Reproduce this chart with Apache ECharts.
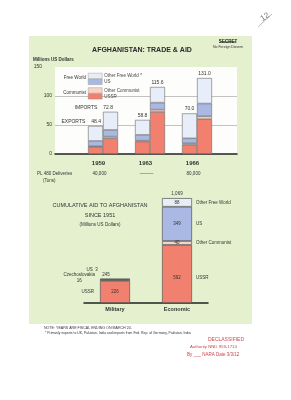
<!DOCTYPE html>
<html>
<head>
<meta charset="utf-8">
<script src="https://cdn.jsdelivr.net/npm/echarts@6/dist/echarts.min.js"></script>
<style>
html, body { margin: 0; padding: 0; background: #fff; }
#main { width: 291px; height: 400px; }
</style>
</head>
<body>
<div id="main"></div>
<script>
// trade, millions US dollars (fiscal years)
var years = ['1959', '1963', '1966'];
var plDeliveries = ['40,000', '———', '80,000'];
var expUSSR = [12, 21.5, 16];
var expOtherComm = [1.5, 1.5, 2.5];
var expUS = [9, 10, 8.5];
var expOtherFree = [25.9, 25.8, 43];
var expTotal = ['48.4', '58.8', '70.0'];
var impUSSR = [27, 72.5, 60];
var impOtherComm = [3, 4, 5];
var impUS = [11.5, 12, 22];
var impOtherFree = [31.3, 27.1, 44];
var impTotal = ['72.8', '115.6', '131.0'];

// cumulative aid since 1951, millions US dollars
var aidTypes = ['Military', 'Economic'];
var aidUSSR = [226, 592];
var aidOtherComm = [16, 40];   // military: Czechoslovakia
var aidUS = [3, 349];
var aidOtherFree = [null, 88];
var aidTotal = ['245', '1,069'];

var FONT = 'Liberation Sans';
var colUSSR = '#f2806e', colOtherComm = '#f8d3c7', colUS = '#a9b9e3', colOtherFree = '#e8eef9';
var chart = echarts.init(document.getElementById('main'));

function txt(x, y, s, size, extra) {
    var st = { text: s, x: x, y: y, font: (extra && extra.bold ? 'bold ' : '') + size + 'px ' + FONT,
        fill: (extra && extra.fill) || '#333', textAlign: (extra && extra.align) || 'left', textVerticalAlign: 'middle' };
    return { type: 'text', z: 5, style: st };
}

function tradeBar(name, stack, data, color) {
    return {
        name: name, type: 'bar', stack: stack, xAxisIndex: 1, yAxisIndex: 1,
        barWidth: 15, barGap: '0%', data: data,
        itemStyle: { color: color, borderColor: '#6a6a6a', borderWidth: 0.6 }
    };
}

//总额标签, 1959年前面带 EXPORTS / IMPORTS
function topItems(vals, totals, word, shift) {
    return vals.map(function (v, i) {
        var lab = { show: true, position: 'top', distance: 2, fontSize: 5, color: '#333', fontFamily: FONT, formatter: totals[i] };
        if (i === 0) {
            lab = { show: true, position: ['100%', 0], align: 'right', verticalAlign: 'bottom', offset: [shift, -2],
                fontSize: 5, color: '#333', fontFamily: FONT, formatter: '{t|' + word + '}' + totals[i],
                rich: { t: { fontSize: 5, color: '#333', fontFamily: FONT, padding: [0, 6, 0, 0] } } };
        }
        return { value: v, label: lab };
    });
}

function aidBar(name, data, color) {
    return {
        name: name, type: 'bar', stack: 'aid', xAxisIndex: 3, yAxisIndex: 2,
        barWidth: 30, data: data,
        itemStyle: { color: color, borderColor: '#555', borderWidth: 0.7 },
        label: {
            show: true, position: ['0%', '50%'], align: 'left', verticalAlign: 'middle',
            fontSize: 4.5, color: '#333', fontFamily: FONT,
            formatter: function (p) { return '{v|' + p.value + '}{n|' + name + '}'; },
            rich: {
                v: { width: 30, align: 'center', fontSize: 4.5, color: '#333', fontFamily: FONT },
                n: { padding: [0, 0, 0, 4], fontSize: 4.5, color: '#333', fontFamily: FONT }
            }
        }
    };
}

var sUSSR = aidBar('USSR', aidUSSR.map(function (v, i) {
    if (i === 0) {
        return { value: v, label: { position: ['100%', '50%'], align: 'right', formatter: '{n|USSR}{v|' + v + '}',
            rich: { n: { padding: [0, 6, 0, 0], fontSize: 4.5, color: '#333', fontFamily: FONT },
                    v: { width: 30, align: 'center', fontSize: 4.5, color: '#333', fontFamily: FONT } } } };
    }
    return { value: v, label: { offset: [0, 4] } };
}), colUSSR);
var sOtherComm = aidBar('Other Communist', aidOtherComm.map(function (v, i) {
    if (i === 0) {
        return { value: v, itemStyle: { color: '#5e5e5e' },
            label: { position: ['0%', '50%'], align: 'right', offset: [-5, -2], formatter: '{c|Czechoslovakia}\n{c|' + v + '}',
                lineHeight: 6, rich: { c: { align: 'center', fontSize: 4.5, color: '#333', fontFamily: FONT, lineHeight: 6 } } } };
    }
    return v;
}), colOtherComm);
var sUS = aidBar('US', aidUS.map(function (v, i) {
    if (i === 0) {
        return { value: v, label: { position: ['0%', '0%'], align: 'right', offset: [-2, -9], formatter: 'US  ' + v } };
    }
    return v;
}), colUS);
var sOtherFree = aidBar('Other Free World', aidOtherFree, colOtherFree);
var sTotal = {
    name: 'Total', type: 'bar', stack: 'aid', xAxisIndex: 3, yAxisIndex: 2, barWidth: 30,
    data: aidTotal.map(function () { return 0; }),
    itemStyle: { color: 'transparent' },
    label: {
        show: true, position: 'top', distance: 2, fontSize: 4.5, color: '#333', fontFamily: FONT,
        formatter: function (p) { return aidTotal[p.dataIndex]; }
    }
};
sTotal.data[0] = { value: 0, label: { offset: [-9, 0] } };

var expTop = tradeBar('Other Free World *', 'exp', topItems(expOtherFree, expTotal, 'EXPORTS', -2), colOtherFree);
var impTop = tradeBar('Other Free World *', 'imp', topItems(impOtherFree, impTotal, 'IMPORTS', -5), colOtherFree);

var legendBase = {
    orient: 'vertical', left: 88, icon: 'rect', itemWidth: 14, itemHeight: 5.5, itemGap: 0, padding: 0,
    selectedMode: false,
    itemStyle: { borderColor: '#8a8a8a', borderWidth: 0.4 },
    textStyle: { fontSize: 4.5, color: '#444', fontFamily: FONT, lineHeight: 5.5, padding: [0, 0, 0, -3] }
};

option = {
    animation: false,
    title: [{
        text: 'AFGHANISTAN: TRADE & AID', left: 137, top: 42, textAlign: 'center',
        textStyle: { fontSize: 7, fontWeight: 'bold', color: '#2a2a2a', fontFamily: FONT }
    }, {
        text: 'CUMULATIVE AID TO AFGHANISTAN', left: 100, top: 202, textAlign: 'center', padding: 0,
        textStyle: { fontSize: 5.5, fontWeight: 'normal', color: '#333', fontFamily: FONT },
        subtext: 'SINCE 1951', itemGap: 4,
        subtextStyle: { fontSize: 5.5, color: '#333', fontFamily: FONT }
    }],
    legend: [
        Object.assign({ top: 73, data: ['Other Free World *', 'US'] }, legendBase),
        Object.assign({ top: 87.5, data: ['Other Communist', 'USSR'] }, legendBase)
    ],
    grid: [
        { left: 55, width: 182, top: 67, height: 87, show: true, backgroundColor: '#fdfefb', borderWidth: 0 },
        { left: 79.5, width: 141, top: 67, height: 87 },
        { left: 84, width: 124, top: 198, height: 105 }
    ],
    xAxis: [
        { type: 'value', gridIndex: 0, min: 0, max: 1, axisLabel: { show: false }, axisTick: { show: false },
          splitLine: { show: false }, axisLine: { lineStyle: { color: '#222', width: 1.5 } } },
        { type: 'category', gridIndex: 1, data: years, axisLine: { show: false }, axisTick: { show: false },
          axisLabel: { fontSize: 6, fontWeight: 'bold', color: '#333', fontFamily: FONT, margin: 6, padding: [0, 9, 0, 0] } },
        { type: 'category', gridIndex: 1, data: plDeliveries, position: 'bottom', offset: 15,
          axisLine: { show: false }, axisTick: { show: false },
          axisLabel: { fontSize: 4.5, color: '#333', fontFamily: FONT, margin: 2, padding: [0, 7, 0, 0] } },
        { type: 'category', gridIndex: 2, data: aidTypes, axisTick: { show: false },
          axisLine: { lineStyle: { color: '#222', width: 1.5 } },
          axisLabel: { fontSize: 5.5, fontWeight: 'bold', color: '#333', fontFamily: FONT, margin: 3 } }
    ],
    yAxis: [
        { type: 'value', gridIndex: 0, min: 0, max: 150, interval: 50,
          axisLine: { show: false }, axisTick: { show: false },
          axisLabel: { fontSize: 5, color: '#333', fontFamily: FONT, margin: 3,
              formatter: function (v) { return v === 150 ? '{f|150}' : v; },
              rich: { f: { fontSize: 5, color: '#333', fontFamily: FONT, padding: [0, 10, 0, 0] } } },
          splitLine: { lineStyle: { color: ['transparent', '#9a9a9a', '#9a9a9a', 'transparent'], width: 0.6 } } },
        { type: 'value', gridIndex: 1, min: 0, max: 150, show: false },
        { type: 'value', gridIndex: 2, min: 0, max: 1070, show: false }
    ],
    graphic: [
        { type: 'rect', z: -10, shape: { x: 29, y: 36, width: 223, height: 288 }, style: { fill: '#e5f0cf' } },
        txt(33, 60, 'Millions US Dollars', 4.5, { bold: true }),
        txt(86, 78, 'Free World', 4.5, { align: 'right' }),
        txt(86, 93, 'Communist', 4.5, { align: 'right' }),
        txt(37, 174, 'PL 480 Deliveries', 4.5),
        txt(43, 180.5, '(Tons)', 4.5),
        txt(100, 225, '(Millions US Dollars)', 4.5, { align: 'center' }),
        txt(228, 42, 'SECRET', 4.5, { bold: true, align: 'center', fill: '#222' }),
        { type: 'line', z: 6, shape: { x1: 220, y1: 42, x2: 236, y2: 42 }, style: { stroke: '#222', lineWidth: 0.8 } },
        txt(228, 47, 'No Foreign Dissem', 3.5, { align: 'center' }),
        txt(44, 328, 'NOTE: YEARS ARE FISCAL ENDING ON MARCH 20.', 3.6),
        txt(45, 333, '* Primarily exports to UK, Pakistan, India and imports from Fed. Rep. of Germany, Pakistan, India', 3.4),
        txt(226, 340, 'DECLASSIFIED', 5, { align: 'center', fill: '#d0484a' }),
        txt(190, 347, 'Authority NND 959-1714', 4.3, { fill: '#c9444a' }),
        txt(187, 355, 'By ___ NARA Date 3/3/12', 4.5, { fill: '#c9444a' }),
        { type: 'text', z: 5, x: 265, y: 17, rotation: 0.6,
          style: { text: '12', font: '8px ' + FONT, fill: '#777', textAlign: 'center', textVerticalAlign: 'middle' } },
        { type: 'line', z: 5, shape: { x1: 258, y1: 27, x2: 272, y2: 14 }, style: { stroke: '#888', lineWidth: 0.6 } }
    ],
    series: [
        tradeBar('USSR', 'exp', expUSSR, colUSSR),
        tradeBar('Other Communist', 'exp', expOtherComm, colOtherComm),
        tradeBar('US', 'exp', expUS, colUS),
        expTop,
        tradeBar('USSR', 'imp', impUSSR, colUSSR),
        tradeBar('Other Communist', 'imp', impOtherComm, colOtherComm),
        tradeBar('US', 'imp', impUS, colUS),
        impTop,
        sUSSR, sOtherComm, sUS, sOtherFree, sTotal
    ]
};
chart.setOption(option);
</script>
</body>
</html>
